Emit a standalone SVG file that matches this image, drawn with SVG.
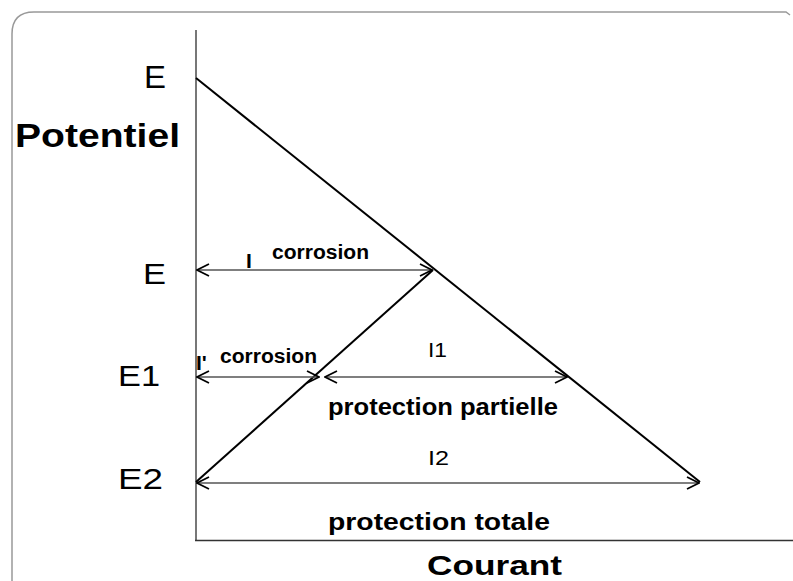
<svg xmlns="http://www.w3.org/2000/svg" width="793" height="581" viewBox="0 0 793 581">
<defs>
<marker id="ah" viewBox="0 0 14 14" refX="13" refY="7" markerWidth="14" markerHeight="14" markerUnits="userSpaceOnUse" orient="auto-start-reverse">
<path d="M1,1 L13,7 L1,13" fill="none" stroke="#000" stroke-width="1.8"/>
</marker>
</defs>
<style>
text{font-family:"Liberation Sans",Arial,sans-serif;fill:#000}
.b{font-weight:bold}
.ln{stroke:#000;stroke-width:2;fill:none}
.dim{stroke:#555;stroke-width:1.6;fill:none;marker-start:url(#ah);marker-end:url(#ah)}
</style>
<rect width="793" height="581" fill="#fff"/>
<path d="M12,600 L12,34 Q12,12 34,12 L786,12 L790,15" fill="none" stroke="#999" stroke-width="1.5"/>
<g id="axes">
<line x1="196" y1="30" x2="196" y2="541" stroke="#777" stroke-width="2"/>
<line x1="195" y1="540.5" x2="793" y2="540.5" stroke="#333" stroke-width="1.5"/>
</g>
<g id="connectors">
<line class="ln" x1="196" y1="78" x2="700" y2="482"/>
<line class="ln" x1="196" y1="482" x2="433" y2="270"/>
<line class="dim" x1="197" y1="270" x2="432" y2="270"/>
<line class="dim" x1="197" y1="377" x2="319" y2="377"/>
<line class="dim" x1="325" y1="377" x2="567" y2="377"/>
<line class="dim" x1="197" y1="483" x2="699" y2="483"/>
</g>
<g id="labels">
<text x="144" y="88" style="font-size:31px" textLength="22" lengthAdjust="spacingAndGlyphs">E</text>
<text class="b" x="15" y="147" style="font-size:33px" textLength="165" lengthAdjust="spacingAndGlyphs">Potentiel</text>
<text x="143" y="284" style="font-size:29px" textLength="23" lengthAdjust="spacingAndGlyphs">E</text>
<text x="118" y="386" style="font-size:29px" textLength="42" lengthAdjust="spacingAndGlyphs">E1</text>
<text x="118" y="489" style="font-size:29px" textLength="45" lengthAdjust="spacingAndGlyphs">E2</text>
<text class="b" x="246" y="268" style="font-size:21px">I</text>
<text class="b" x="272" y="259" style="font-size:20px" textLength="97" lengthAdjust="spacingAndGlyphs">corrosion</text>
<text class="b" x="196" y="370" style="font-size:21px">I'</text>
<text class="b" x="220" y="363" style="font-size:20px" textLength="97" lengthAdjust="spacingAndGlyphs">corrosion</text>
<text x="428" y="357" style="font-size:21px" textLength="19" lengthAdjust="spacingAndGlyphs">I1</text>
<text class="b" x="328" y="415" style="font-size:23px" textLength="230" lengthAdjust="spacingAndGlyphs">protection partielle</text>
<text x="428" y="465" style="font-size:21px" textLength="21" lengthAdjust="spacingAndGlyphs">I2</text>
<text class="b" x="328" y="530" style="font-size:23px" textLength="222" lengthAdjust="spacingAndGlyphs">protection totale</text>
<text class="b" x="427" y="575" style="font-size:27px" textLength="135" lengthAdjust="spacingAndGlyphs">Courant</text>
</g>
</svg>
